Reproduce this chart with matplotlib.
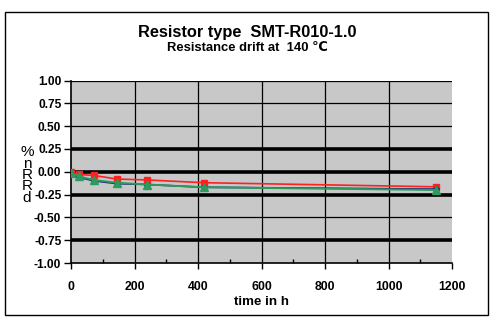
import matplotlib
matplotlib.use("Agg")
import matplotlib.pyplot as plt
from matplotlib.patches import Rectangle
from matplotlib.ticker import MultipleLocator

hours = [0, 24, 72, 144, 240, 418, 1150]
drift_red = [0.00, -0.03, -0.04, -0.08, -0.09, -0.12, -0.165]
drift_blue = [-0.03, -0.06, -0.10, -0.13, -0.14, -0.17, -0.19]
drift_green = [-0.015, -0.05, -0.09, -0.12, -0.14, -0.17, -0.20]

x_ticks = [0, 200, 400, 600, 800, 1000, 1200]
y_ticks = [-1.00, -0.75, -0.50, -0.25, 0.00, 0.25, 0.50, 0.75, 1.00]
heavy_grid = [0.25, 0.00, -0.25, -0.75]

fig = plt.figure(figsize=(4.95, 3.24), dpi=100)
plt.rcParams['font.family'] = ['Liberation Sans', 'DejaVu Sans']

# outer chart frame
fig.patches.append(Rectangle((5 / 495, 1 - 315 / 324), 483 / 495, 303 / 324,
                             transform=fig.transFigure, fill=False,
                             edgecolor='black', linewidth=1.0))

ax = fig.add_axes([71 / 495, 1 - 263 / 324, 381 / 495, 182.5 / 324])
ax.set_facecolor('#c8c8c8')
ax.set_xlim(0, 1200)
ax.set_ylim(-1.0, 1.0)

for v in x_ticks[1:-1]:
    ax.axvline(v, color='black', linewidth=0.9, zorder=1)
for v in y_ticks:
    if v in heavy_grid:
        ax.axhline(v, color='black', linewidth=2.6, zorder=1)
    elif v not in (-1.0,):
        ax.axhline(v, color='black', linewidth=0.9, zorder=1)

ax.plot(hours, drift_red, color='#ff2020', marker='s', markersize=5,
        linewidth=1.2, zorder=3)
ax.plot(hours, drift_blue, color='#1a237e', marker='D', markersize=3,
        linewidth=1.2, zorder=4)
ax.plot(hours, drift_green, color='#2e9a5e', marker='^', markersize=6,
        linewidth=1.4, zorder=5)

for s in ('top', 'right'):
    ax.spines[s].set_visible(False)
for s in ('left', 'bottom'):
    ax.spines[s].set_linewidth(1.2)

ax.set_xticks(x_ticks)
ax.set_yticks(y_ticks)
ax.xaxis.set_minor_locator(MultipleLocator(100))
ax.tick_params(axis='x', which='major', direction='out', length=4, width=1)
ax.tick_params(axis='x', which='minor', direction='in', length=3, width=1)
ax.tick_params(axis='y', which='major', direction='out', length=5, width=1)
ax.set_xticklabels([str(v) for v in x_ticks], fontsize=8.8, fontweight='bold')
ax.set_yticklabels([f"{v:.2f}" for v in y_ticks], fontsize=8.6, fontweight='bold')
ax.tick_params(axis='x', pad=9)
ax.tick_params(axis='y', pad=2)

ax.set_xlabel('time in h', fontsize=9.6, fontweight='bold', labelpad=2)

# stacked axis caption
fig.text(27 / 495, 1 - 175 / 324, '%\nn\nR\nR\nd', ha='center', va='center',
         fontsize=11, linespacing=0.75)

fig.text(247 / 495, 1 - 32 / 324, 'Resistor type  SMT-R010-1.0', ha='center',
         va='center', fontsize=11.8, fontweight='bold')
fig.text(247 / 495, 1 - 48 / 324, 'Resistance drift at  140 \u2103', ha='center',
         va='center', fontsize=9.4, fontweight='bold')

fig.savefig('out.png', dpi=100)
